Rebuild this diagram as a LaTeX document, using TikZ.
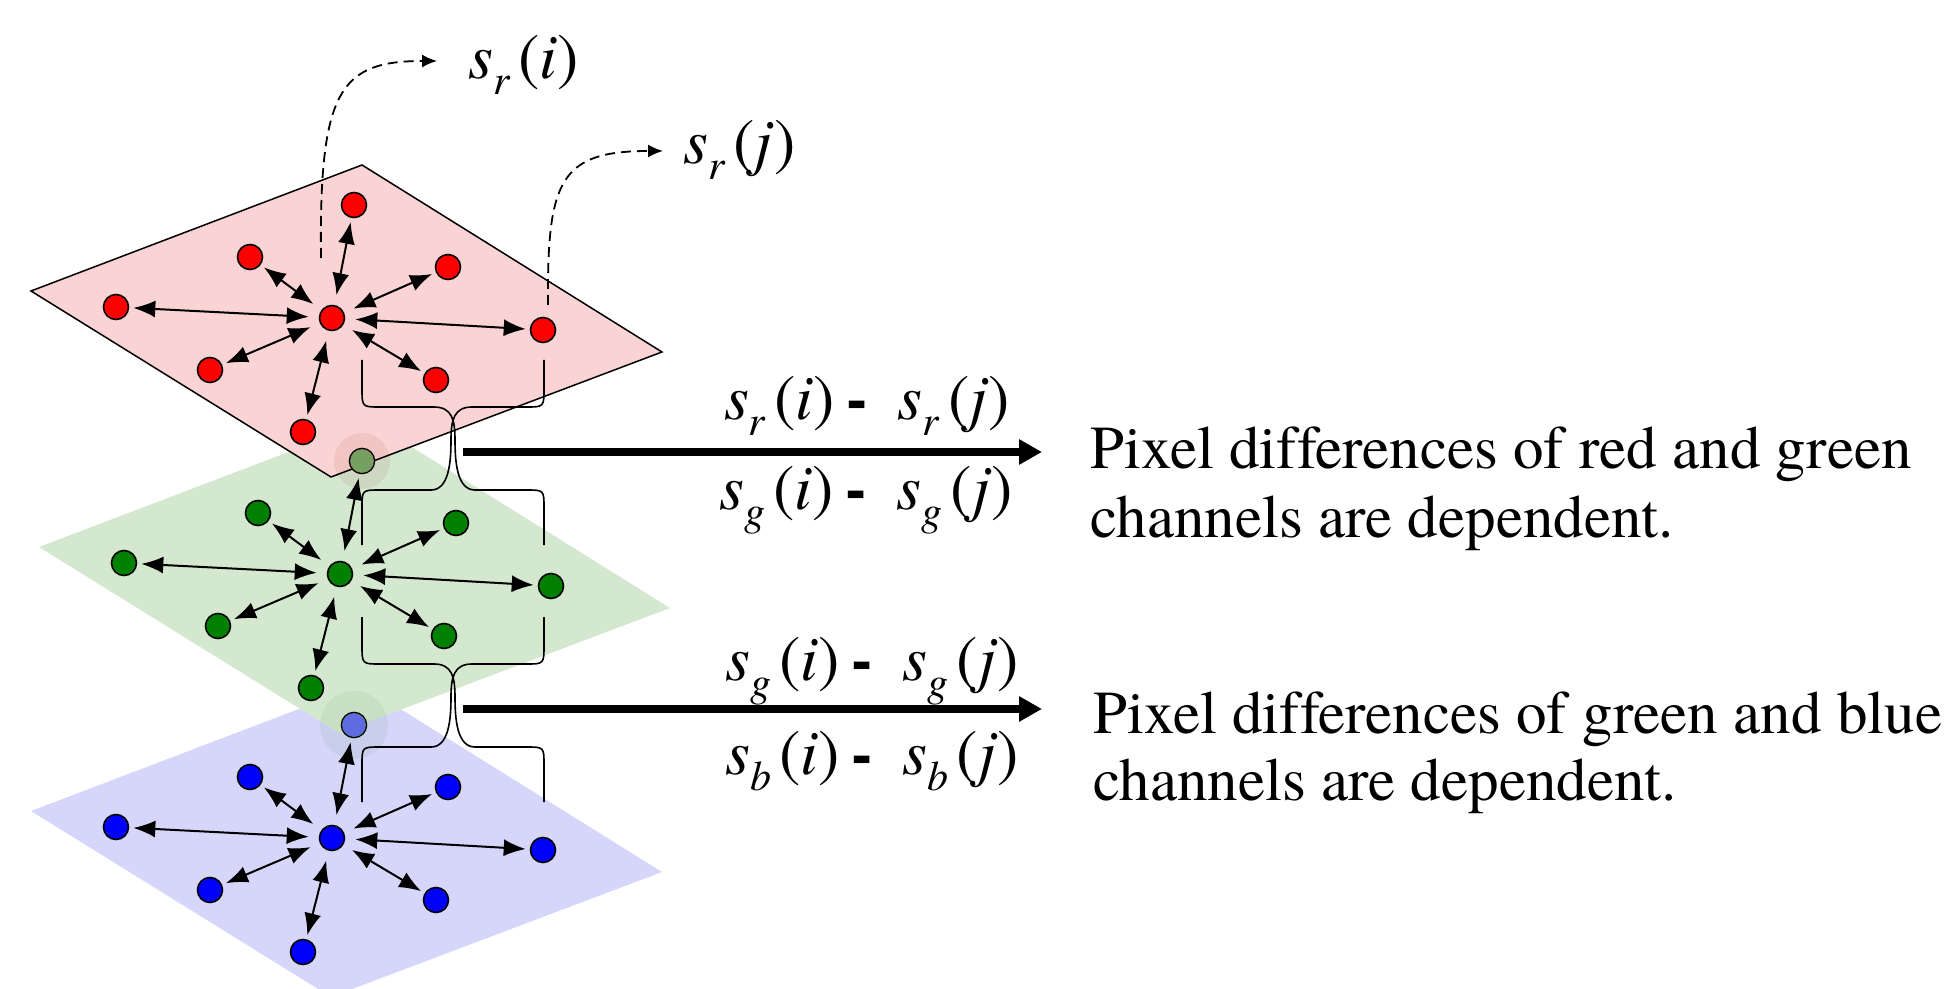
\documentclass[tikz,border=0pt]{standalone}
\usepackage{fontspec}
\setmainfont{texgyretermes}[Extension=.otf,UprightFont=*-regular,ItalicFont=*-italic,BoldFont=*-bold,BoldItalicFont=*-bolditalic,Ligatures=CommonOff]
\usetikzlibrary{arrows.meta}

\definecolor{pxred}{RGB}{255,0,0}
\definecolor{pxgreen}{RGB}{0,128,0}
\definecolor{pxblue}{RGB}{0,0,255}
\definecolor{rplane}{RGB}{250,212,212}
\definecolor{gplane}{RGB}{212,232,208}
\definecolor{bplane}{RGB}{214,214,250}

\newcommand{\chan}[2]{\textit{s}\raisebox{-8pt}{\fontsize{21}{21}\selectfont\textit{#1}}\hspace{4pt}(\textit{#2})}
\newcommand{\chdiff}[1]{\chan{#1}{i}\hspace{6pt}\textbf{-}\hspace{15pt}\chan{#1}{j}}

\begin{document}
\begin{tikzpicture}[x=0.5pt,y=-0.5pt,>={Latex[length=11pt,width=8.5pt]},
  pix/.style={circle,draw,line width=0.8pt,inner sep=0pt,minimum size=12.5pt},
  nbr/.style={<->,line width=1pt,shorten >=2pt,shorten <=5pt},
  lead/.style={->,line width=0.9pt,dash pattern=on 5pt off 3pt,>={Latex[length=7.5pt,width=6.5pt]}},
  brace/.style={line width=0.8pt},
  bigarrow/.style={line width=4pt,-{Triangle[length=11.5pt,width=12pt]}},
  lbl/.style={inner sep=0pt,anchor=base,font=\fontsize{32}{36}\selectfont},
  txt/.style={inner sep=0pt,anchor=base west,font=\fontsize{30.5}{34}\selectfont}]
  \useasboundingbox (0,0) rectangle (1948,989);
  % the three channel planes, blue at the bottom
  \fill[bplane] (31,811) -- (362,685) -- (662,872) -- (331,997) -- cycle;
  \fill[gplane] (39,547) -- (370,421) -- (670,608) -- (339,733) -- cycle;
  \filldraw[fill=rplane,line width=0.75pt] (31,291) -- (362,165) -- (662,352) -- (331,477) -- cycle;
  % centre pixel and its 8 neighbours on each plane
  \foreach \c/\dx/\dy/\col in {r/0/0/pxred, g/8/256/pxgreen, b/0/520/pxblue}{
    \begin{scope}[shift={(\dx,\dy)}]
      \node[pix,fill=\col] (\c0) at (332,318) {};
      \foreach \n/\x/\y in {1/354/205, 2/250/257, 3/448/267, 4/116/307,
                            5/543/330, 6/210/370, 7/436/380, 8/303/432}
        \node[pix,fill=\col] (\c\n) at (\x,\y) {};
    \end{scope}
  }
  % top pixels seen through the plane above
  \fill[red!55!black,opacity=0.07] (g1) circle (28);
  \fill[rplane,opacity=0.45] (g1) circle (12);
  \fill[green!35!black,opacity=0.06] (b1) circle (34);
  \fill[gplane,opacity=0.45] (b1) circle (12);
  % neighbourhood arrows
  \foreach \c in {r,g,b}
    \foreach \n in {1,...,8}
      \draw[nbr] (\c0) -- (\c\n);
  % pixels i and j
  \coordinate (pi) at (321,258);
  \coordinate (pj) at (548,305);
  \coordinate (ti) at (437,61);
  \coordinate (tj) at (663,151);
  \draw[lead] (pi) .. controls (319,90) and (340,61) .. (ti);
  \draw[lead] (pj) .. controls (547,180) and (560,151) .. (tj);
  \node[lbl,anchor=base west] (sri) at (468,79) {\chan{r}{i}};
  \node[lbl,anchor=base west] (srj) at (683,164) {\chan{r}{j}};
  % crossed braces between neighbouring planes
  \foreach \yo in {0,257}{
    \begin{scope}[shift={(0,\yo)}]
      \draw[brace] (362,360) -- (362,388) .. controls (362,407) .. (380,407) -- (434,407)
        .. controls (452,407) and (455,420) .. (455,440) .. controls (455,462) and (457,490) .. (475,490)
        -- (526,490) .. controls (544,490) .. (544,508) -- (544,545);
      \draw[brace] (544,360) -- (544,388) .. controls (544,407) .. (526,407) -- (472,407)
        .. controls (454,407) and (451,420) .. (451,440) .. controls (451,462) and (449,490) .. (431,490)
        -- (380,490) .. controls (362,490) .. (362,508) -- (362,545);
    \end{scope}
  }
  % differences and conclusions
  \coordinate (a1) at (463,452);
  \coordinate (a1t) at (1042,452);
  \coordinate (a2) at (463,709);
  \coordinate (a2t) at (1042,709);
  \draw[bigarrow] (a1) -- (a1t);
  \draw[bigarrow] (a2) -- (a2t);
  \node[lbl] (drg) at (867,420) {\chdiff{r}};
  \node[lbl] (dgr) at (866,509) {\chdiff{g}};
  \node[lbl] (dgb) at (872,680) {\chdiff{g}};
  \node[lbl] (dbg) at (872,774) {\chdiff{b}};
  \node[txt] (rg1) at (1090,468) {Pixel differences of red and green};
  \node[txt] (rg2) at (1090,537) {channels are dependent.};
  \node[txt] (gb1) at (1093,733) {Pixel differences of green and blue};
  \node[txt] (gb2) at (1093,800) {channels are dependent.};
\end{tikzpicture}
\end{document}
